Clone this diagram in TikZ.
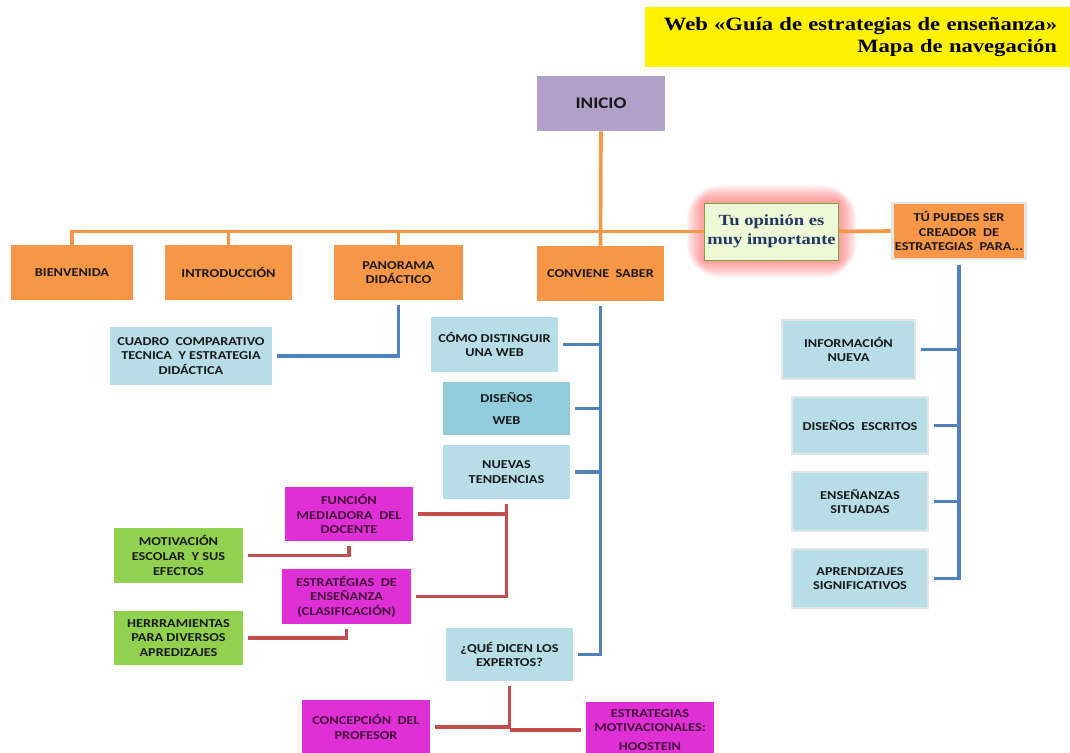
\documentclass[tikz,border=0pt]{standalone}
\usepackage{fontspec}
\usetikzlibrary{backgrounds}
\newfontfamily\boxfont[FakeStretch=1.18]{Carlito}
\newfontfamily\titlefont[FakeStretch=1.2]{Liberation Serif}
\definecolor{naranja}{HTML}{F79646}
\definecolor{lila}{HTML}{B1A0C7}
\definecolor{celeste}{HTML}{B7DEE8}
\definecolor{celesteosc}{HTML}{92CDDC}
\definecolor{verde}{HTML}{92D050}
\definecolor{magenta2}{RGB}{222,48,212}
\definecolor{azul}{HTML}{4F81BD}
\definecolor{rojo}{HTML}{C0504D}
\definecolor{textomag}{RGB}{70,15,60}
\definecolor{crema}{HTML}{EEF8D6}
\definecolor{azultexto}{HTML}{1F3864}
\begin{document}
\begin{tikzpicture}[x=0.025cm,y=-0.025cm,
	caja/.style={rectangle,align=center,inner sep=2pt,text=black!90,
		font=\boxfont\bfseries\fontsize{8.6}{10.4}\selectfont,
		minimum width=3.2cm,minimum height=1.375cm},
	cajanar/.style={caja,fill=naranja},
	cajacel/.style={caja,fill=celeste},
	cajaver/.style={caja,fill=verde},
	cajamag/.style={caja,fill=magenta2,text=textomag},
	borde/.style={draw=black!10,line width=2pt},
	linnar/.style={draw=naranja,line width=2.6pt},
	linazul/.style={draw=azul,line width=2.6pt,shorten <=0.12cm},
	linrojo/.style={draw=rojo,line width=2.6pt,shorten <=0.12cm},
	]
\useasboundingbox (0,0) rectangle (1070,753);
\clip (0,0) rectangle (1070,753);
\node[fill=yellow,minimum width=10.625cm,minimum height=1.5cm,inner xsep=0.325cm,
	text width=9.975cm,align=right,font=\titlefont\bfseries\fontsize{13.4}{16.3}\selectfont]
	(titulo) at (857.5,37) {Web «Guía de estrategias de enseñanza»\\Mapa de navegación};
\node[caja,fill=lila,font=\boxfont\bfseries\fontsize{11.5}{13}\selectfont] (inicio) at (601,103.5) {INICIO};
\node[cajanar,minimum width=3.05cm] (bienvenida) at (72,272.5) {BIENVENIDA};
\node[cajanar,minimum width=3.175cm] (intro) at (228.5,272.5) {INTRODUCCIÓN};
\node[cajanar,minimum width=3.225cm] (panorama) at (398.5,272.5) {PANORAMA\\DIDÁCTICO};
\node[cajanar,minimum width=3.175cm] (conviene) at (600.5,273.5) {CONVIENE~ SABER};
\node[caja,fill=crema,draw=verde!80!black,line width=0.6pt,minimum width=3.325cm,minimum height=1.425cm,
	text=azultexto,font=\titlefont\bfseries\fontsize{11}{13.5}\selectfont]
	(opinion) at (771.5,231.5) {Tu opinión es\\muy importante};
\begin{scope}[on background layer]
	\foreach \w in {3,5,...,25}
		\draw[red!75,line width=\w pt,opacity=0.055,rounded corners=\w pt/2]
			(opinion.north west) rectangle (opinion.south east);
\end{scope}
\node[cajanar,borde,minimum width=3.3cm,minimum height=1.4cm] (puedes) at (959,231) {TÚ PUEDES SER\\CREADOR~ DE\\ESTRATEGIAS~ PARA...};
\node[cajacel,minimum width=4.05cm,minimum height=1.45cm] (cuadro) at (191,356) {CUADRO~ COMPARATIVO\\TECNICA~ Y ESTRATEGIA\\DIDÁCTICA};
\node[cajacel,minimum width=3.175cm] (distinguir) at (494.5,344.5) {CÓMO DISTINGUIR\\UNA WEB};
\node[caja,fill=celesteosc,minimum width=3.175cm,minimum height=1.325cm] (disenosweb) at (506.5,408.5) {DISEÑOS\\[5pt]WEB};
\node[cajacel,minimum width=3.175cm,minimum height=1.35cm] (nuevas) at (506.5,472) {NUEVAS\\TENDENCIAS};
\node[cajacel,minimum width=3.175cm,minimum height=1.325cm] (expertos) at (509.5,654.5) {¿QUÉ DICEN LOS\\EXPERTOS?};
\node[cajamag,minimum height=1.35cm] (funcion) at (349,514) {FUNCIÓN\\MEDIADORA~ DEL\\DOCENTE};
\node[cajamag,minimum width=3.225cm] (estrategias) at (346.5,596.5) {ESTRATÉGIAS~ DE\\ENSEÑANZA\\(CLASIFICACIÓN)};
\node[cajaver,minimum width=3.225cm] (motivacion) at (178.5,555.5) {MOTIVACIÓN\\ESCOLAR~ Y SUS\\EFECTOS};
\node[cajaver,minimum width=3.225cm,minimum height=1.35cm] (herramientas) at (178.5,638) {HERRRAMIENTAS\\PARA DIVERSOS\\APREDIZAJES};
\node[cajamag,minimum height=1.35cm] (concepcion) at (366,727) {CONCEPCIÓN~ DEL\\PROFESOR};
\node[cajamag,minimum height=1.4cm] (motivacionales) at (650,730) {ESTRATEGIAS\\MOTIVACIONALES:\\[3pt]HOOSTEIN};
\node[cajacel,borde,minimum width=3.325cm,minimum height=1.475cm] (informacion) at (848.5,349.5) {INFORMACIÓN\\NUEVA};
\node[cajacel,borde,minimum width=3.4cm,minimum height=1.425cm] (escritos) at (860,425.5) {DISEÑOS~ ESCRITOS};
\node[cajacel,borde,minimum width=3.4cm,minimum height=1.475cm] (situadas) at (860,501.5) {ENSEÑANZAS\\SITUADAS};
\node[cajacel,borde,minimum width=3.4cm,minimum height=1.475cm] (significativos) at (860,578.5) {APRENDIZAJES\\SIGNIFICATIVOS};
\draw[linnar] (inicio.south) -- (conviene.north);
\draw[linnar] (bienvenida.north) |- (opinion.west);
\draw[linnar] (intro.north) -- (intro.north |- opinion.west);
\draw[linnar] (panorama.north) -- (panorama.north |- opinion.west);
\draw[linnar] (opinion.east) -- (puedes.west);
\draw[linazul,shorten >=0.12cm] (panorama.south) |- (cuadro.east);
\draw[linazul,shorten >=0.12cm] (conviene.south) |- (expertos.east);
\draw[linazul] (distinguir.east) -- (distinguir.east -| conviene.south);
\draw[linazul] (disenosweb.east) -- (disenosweb.east -| conviene.south);
\draw[linazul] (nuevas.east) -- (nuevas.east -| conviene.south);
\draw[linazul,shorten >=0.12cm] (puedes.south) |- (significativos.east);
\draw[linazul] (informacion.east) -- (informacion.east -| puedes.south);
\draw[linazul] (escritos.east) -- (escritos.east -| puedes.south);
\draw[linazul] (situadas.east) -- (situadas.east -| puedes.south);
\draw[linrojo,shorten >=0.12cm] (nuevas.south) |- (estrategias.east);
\draw[linrojo] (funcion.east) -- (funcion.east -| nuevas.south);
\draw[linrojo,shorten >=0.12cm] (funcion.south) |- (motivacion.east);
\draw[linrojo,shorten >=0.12cm] (estrategias.south) |- (herramientas.east);
\draw[linrojo,shorten >=0.12cm] (concepcion.east) -| (expertos.south);
\draw[linrojo] (motivacionales.west) -- (motivacionales.west -| expertos.south);
\end{tikzpicture}
\end{document}
